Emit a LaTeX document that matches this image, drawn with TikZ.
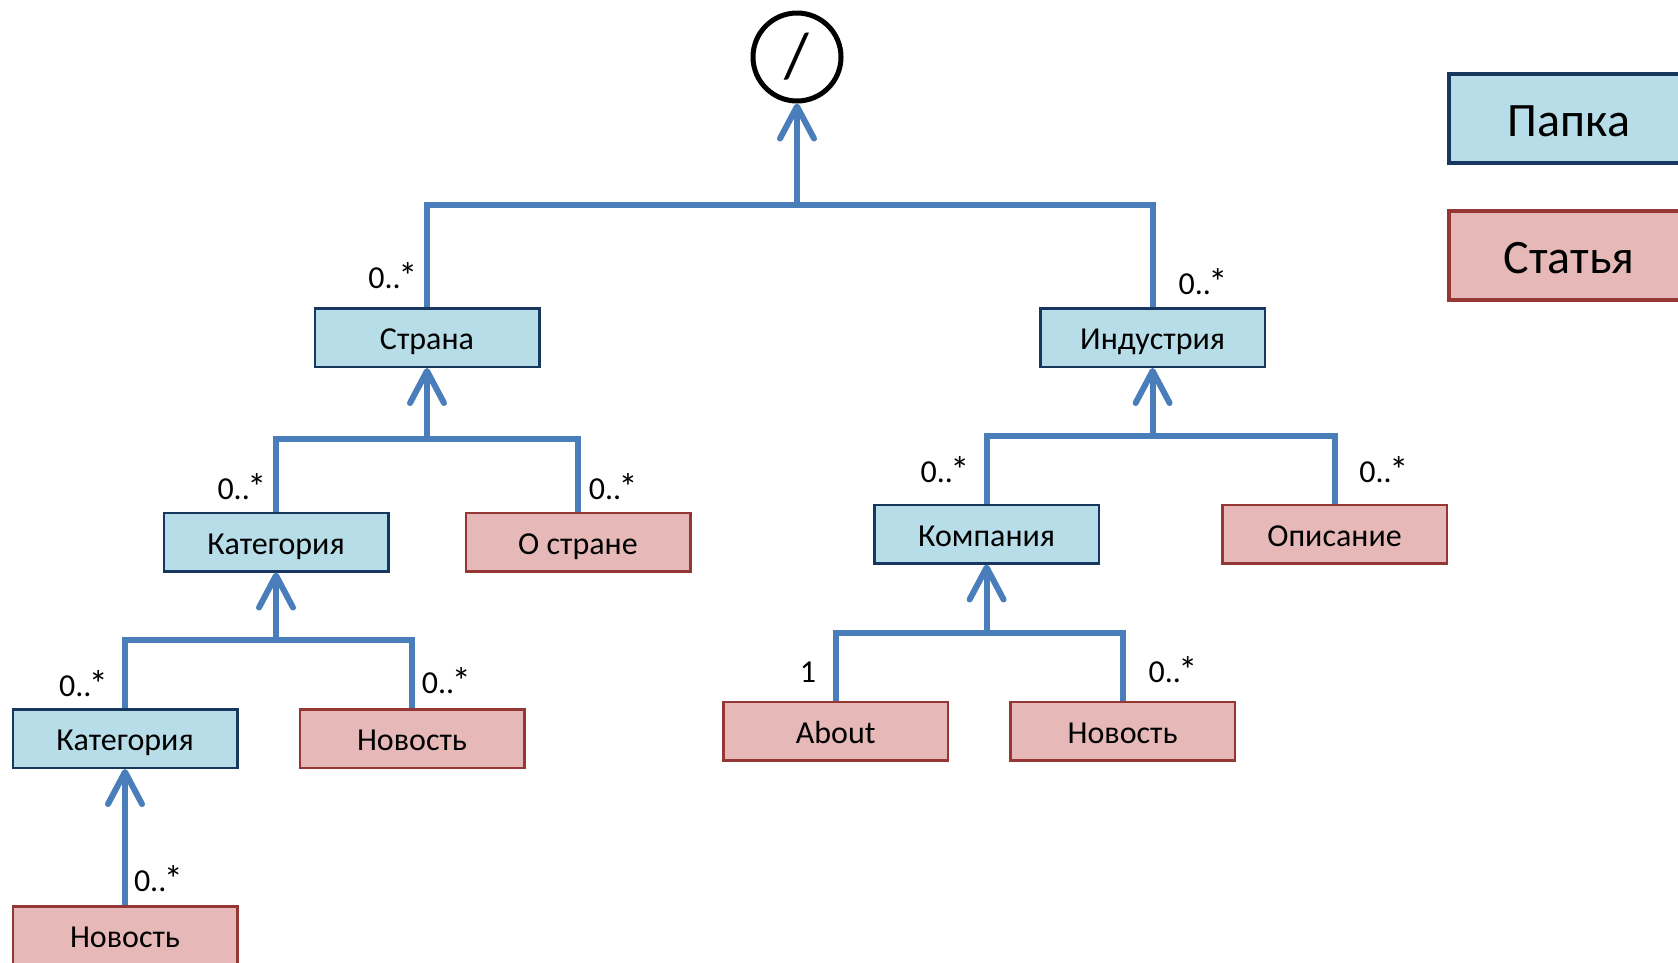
\documentclass[tikz,border=0pt]{standalone}
\usepackage{fontspec}
\setmainfont{Carlito}
\usetikzlibrary{arrows.meta}

\definecolor{linkblue}{RGB}{74,126,187}
\definecolor{folderfill}{RGB}{183,221,232}
\definecolor{folderline}{RGB}{23,55,94}
\definecolor{articlefill}{RGB}{230,185,184}
\definecolor{articleline}{RGB}{149,55,53}

\newcommand\mstar{\kern-2.5pt\raisebox{-1.5pt}{\fontsize{38}{38}\selectfont *}}

\tikzset{
  folder/.style = {draw = folderline, fill = folderfill, line width = 2.5pt,
                   minimum width = 224.5pt, minimum height = 58.5pt,
                   inner sep = 0pt, text height = 30pt, text depth = 6pt,
                   font = \fontsize{32}{38}\selectfont},
  article/.style = {folder, draw = articleline, fill = articlefill},
  legend/.style = {line width = 4pt, minimum width = 240pt,
                   minimum height = 89pt, text height = 44pt, text depth = 7.2pt,
                   font = \fontsize{48}{56}\selectfont},
  link/.style = {draw = linkblue, line width = 6pt},
  uparrow/.style = {link, -{Straight Barb[length = 32pt, width = 34pt, round]}},
  mult/.style = {anchor = base, inner sep = 0pt, font = \fontsize{32}{38}\selectfont}
}

\begin{document}
\begin{tikzpicture}[x = 1pt, y = -1pt]
  \useasboundingbox (0, 0) rectangle (1678, 962);

  \node [circle, draw, line width = 5pt, minimum size = 88pt, inner sep = 0pt,
         font = \fontsize{64}{70}\selectfont] (root) at (797, 57) {/};

  \foreach \name/\x/\y/\kind/\txt in {
    strana/427/337.5/folder/Страна,
    industria/1152.6/337.5/folder/Индустрия,
    kat/276/542/folder/Категория,
    ostrane/578/542/article/О стране,
    kompania/986.6/534/folder/Компания,
    opisanie/1334.5/534/article/Описание,
    subkat/125/738.5/folder/Категория,
    katnews/412/738.5/article/Новость,
    about/835.7/731/article/About,
    compnews/1122.6/731/article/Новость,
    subnews/125/935.5/article/Новость
  } \node [\kind] (\name) at (\x, \y) {\txt};

  % multiplicities
  \foreach \name/\x/\y/\txt in {
    mstrana/392.8/288/{0..\mstar},
    mindustria/1203/294/{0..\mstar},
    mkat/241.9/499/{0..\mstar},
    mostrane/613.2/499/{0..\mstar},
    mkompania/945/482/{0..\mstar},
    mopisanie/1383.8/482/{0..\mstar},
    msubkat/83.5/696/{0..\mstar},
    mkatnews/446.3/693/{0..\mstar},
    mabout/808/682/{1},
    mcompnews/1173/682/{0..\mstar},
    msubnews/158.4/891/{0..\mstar}
  } \node [mult] (\name) at (\x, \y) {\txt};

  % legend
  \node [folder, legend] (papka) at (1569, 118.5) {Папка};
  \node [article, legend] (statya) at (1569, 255) {Статья};

  % buses
  \coordinate (jroot) at (797, 204.5);
  \coordinate (jstrana) at (427, 439);
  \coordinate (jkat) at (276, 640);
  \coordinate (jindustria) at (1152.6, 435.6);
  \coordinate (jkompania) at (986.6, 632.5);

  \draw [link] (strana.north) |- (jroot) -| (industria.north);
  \draw [uparrow] (jroot) -- (root.south);

  \draw [link] (kat.north) |- (jstrana) -| (ostrane.north);
  \draw [uparrow] (jstrana) -- (strana.south);

  \draw [link] (subkat.north) |- (jkat) -| (katnews.north);
  \draw [uparrow] (jkat) -- (kat.south);

  \draw [link] (kompania.north) |- (jindustria) -| (opisanie.north);
  \draw [uparrow] (jindustria) -- (industria.south);

  \draw [link] (about.north) |- (jkompania) -| (compnews.north);
  \draw [uparrow] (jkompania) -- (kompania.south);

  \draw [uparrow] (subnews.north) -- (subkat.south);
\end{tikzpicture}
\end{document}
